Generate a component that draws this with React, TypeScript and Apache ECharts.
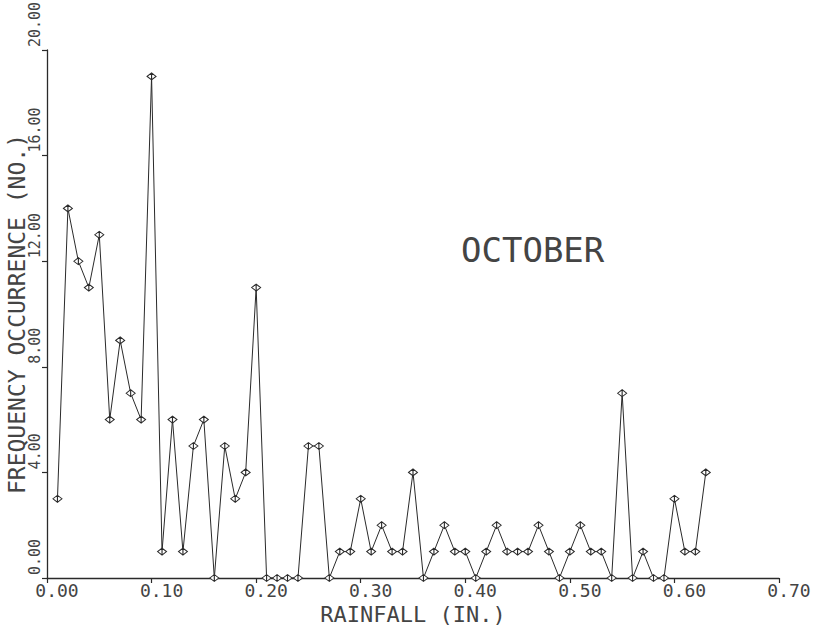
import React, { useEffect, useRef } from "react";
import * as echarts from "echarts";

// Rainfall amount (in.) for each plotted point
const rainfall = [
  0.01, 0.02, 0.03, 0.04, 0.05, 0.06, 0.07, 0.08, 0.09, 0.1,
  0.11, 0.12, 0.13, 0.14, 0.15, 0.16, 0.17, 0.18, 0.19, 0.2,
  0.21, 0.22, 0.23, 0.24, 0.25, 0.26, 0.27, 0.28, 0.29, 0.3,
  0.31, 0.32, 0.33, 0.34, 0.35, 0.36, 0.37, 0.38, 0.39, 0.4,
  0.41, 0.42, 0.43, 0.44, 0.45, 0.46, 0.47, 0.48, 0.49, 0.5,
  0.51, 0.52, 0.53, 0.54, 0.55, 0.56, 0.57, 0.58, 0.59, 0.6,
  0.61, 0.62, 0.63,
];

// Frequency of occurrence (number) for each rainfall amount
const frequency = [
  3, 14, 12, 11, 13, 6, 9, 7, 6, 19,
  1, 6, 1, 5, 6, 0, 5, 3, 4, 11,
  0, 0, 0, 0, 5, 5, 0, 1, 1, 3,
  1, 2, 1, 1, 4, 0, 1, 2, 1, 1,
  0, 1, 2, 1, 1, 1, 2, 1, 0, 1,
  2, 1, 1, 0, 7, 0, 1, 0, 0, 3,
  1, 1, 4,
];

const xTicks = [0, 0.1, 0.2, 0.3, 0.4, 0.5, 0.6, 0.7];
const yTicks = [0, 4, 8, 12, 16, 20];

const monthLabel = "OCTOBER";
const xName = "RAINFALL (IN.)";
const yName = "FREQUENCY OCCURRENCE (NO.)";

const FONT = "'DejaVu Sans Mono', 'Liberation Mono', monospace";
const INK = "#2a2a2a";
const TEXT_INK = "#444444";

export default function App() {
  const ref = useRef<HTMLDivElement>(null);

  useEffect(() => {
    if (!ref.current) return;
    const chart = echarts.init(ref.current, undefined, { renderer: "svg" });
    const points = rainfall.map((x, i) => [x, frequency[i]]);
    chart.setOption({
      animation: false,
      backgroundColor: "#ffffff",
      grid: { left: 47, right: 34, top: 50, bottom: 49, containLabel: false, outerBoundsMode: "none" },
      xAxis: {
        type: "value",
        min: xTicks[0],
        max: xTicks[xTicks.length - 1],
        interval: 0.1,
        name: xName,
        nameLocation: "middle",
        nameGap: 26,
        nameMoveOverlap: false,
        nameTextStyle: { fontFamily: FONT, fontSize: 22, lineHeight: 20, color: TEXT_INK },
        axisLine: { show: true, lineStyle: { color: INK, width: 1.3 } },
        axisTick: { show: true, length: 5, lineStyle: { color: INK, width: 1.2 } },
        splitLine: { show: false },
        axisLabel: {
          fontFamily: FONT,
          fontSize: 18,
          lineHeight: 16,
          color: TEXT_INK,
          margin: 4,
          padding: [0, 0, 0, 20],
          formatter: (v: number) => v.toFixed(2),
        },
      },
      yAxis: {
        type: "value",
        min: yTicks[0],
        max: yTicks[yTicks.length - 1],
        interval: 4,
        name: yName,
        nameLocation: "middle",
        nameGap: 19,
        nameMoveOverlap: false,
        nameTextStyle: { fontFamily: FONT, fontSize: 23, lineHeight: 22, color: TEXT_INK },
        axisLine: { show: true, lineStyle: { color: INK, width: 1.3 } },
        axisTick: { show: true, length: 5, lineStyle: { color: INK, width: 1.2 } },
        splitLine: { show: false },
        axisLabel: {
          fontFamily: FONT,
          fontSize: 15,
          lineHeight: 14,
          color: TEXT_INK,
          rotate: 90,
          align: "left",
          verticalAlign: "middle",
          margin: 12,
          padding: [0, 0, 0, 3],
          formatter: (v: number) => v.toFixed(2),
        },
      },
      graphic: [
        {
          type: "text",
          left: 461,
          top: 233,
          style: {
            text: monthLabel,
            fontFamily: FONT,
            fontSize: 34,
            fill: TEXT_INK,
          },
        },
      ],
      series: [
        {
          type: "line",
          data: points,
          symbol: "path://M0,5 L5,0 L10,5 L5,10 Z M5,0 L5,10",
          symbolSize: [9, 7],
          showAllSymbol: true,
          lineStyle: { color: INK, width: 1 },
          itemStyle: { color: "#ffffff", borderColor: INK, borderWidth: 1 },
        },
      ],
    });
    return () => chart.dispose();
  }, []);

  return (
    <div
      ref={ref}
      style={{ position: "fixed", left: 0, top: 0, width: 813, height: 627, background: "#fff" }}
    />
  );
}
